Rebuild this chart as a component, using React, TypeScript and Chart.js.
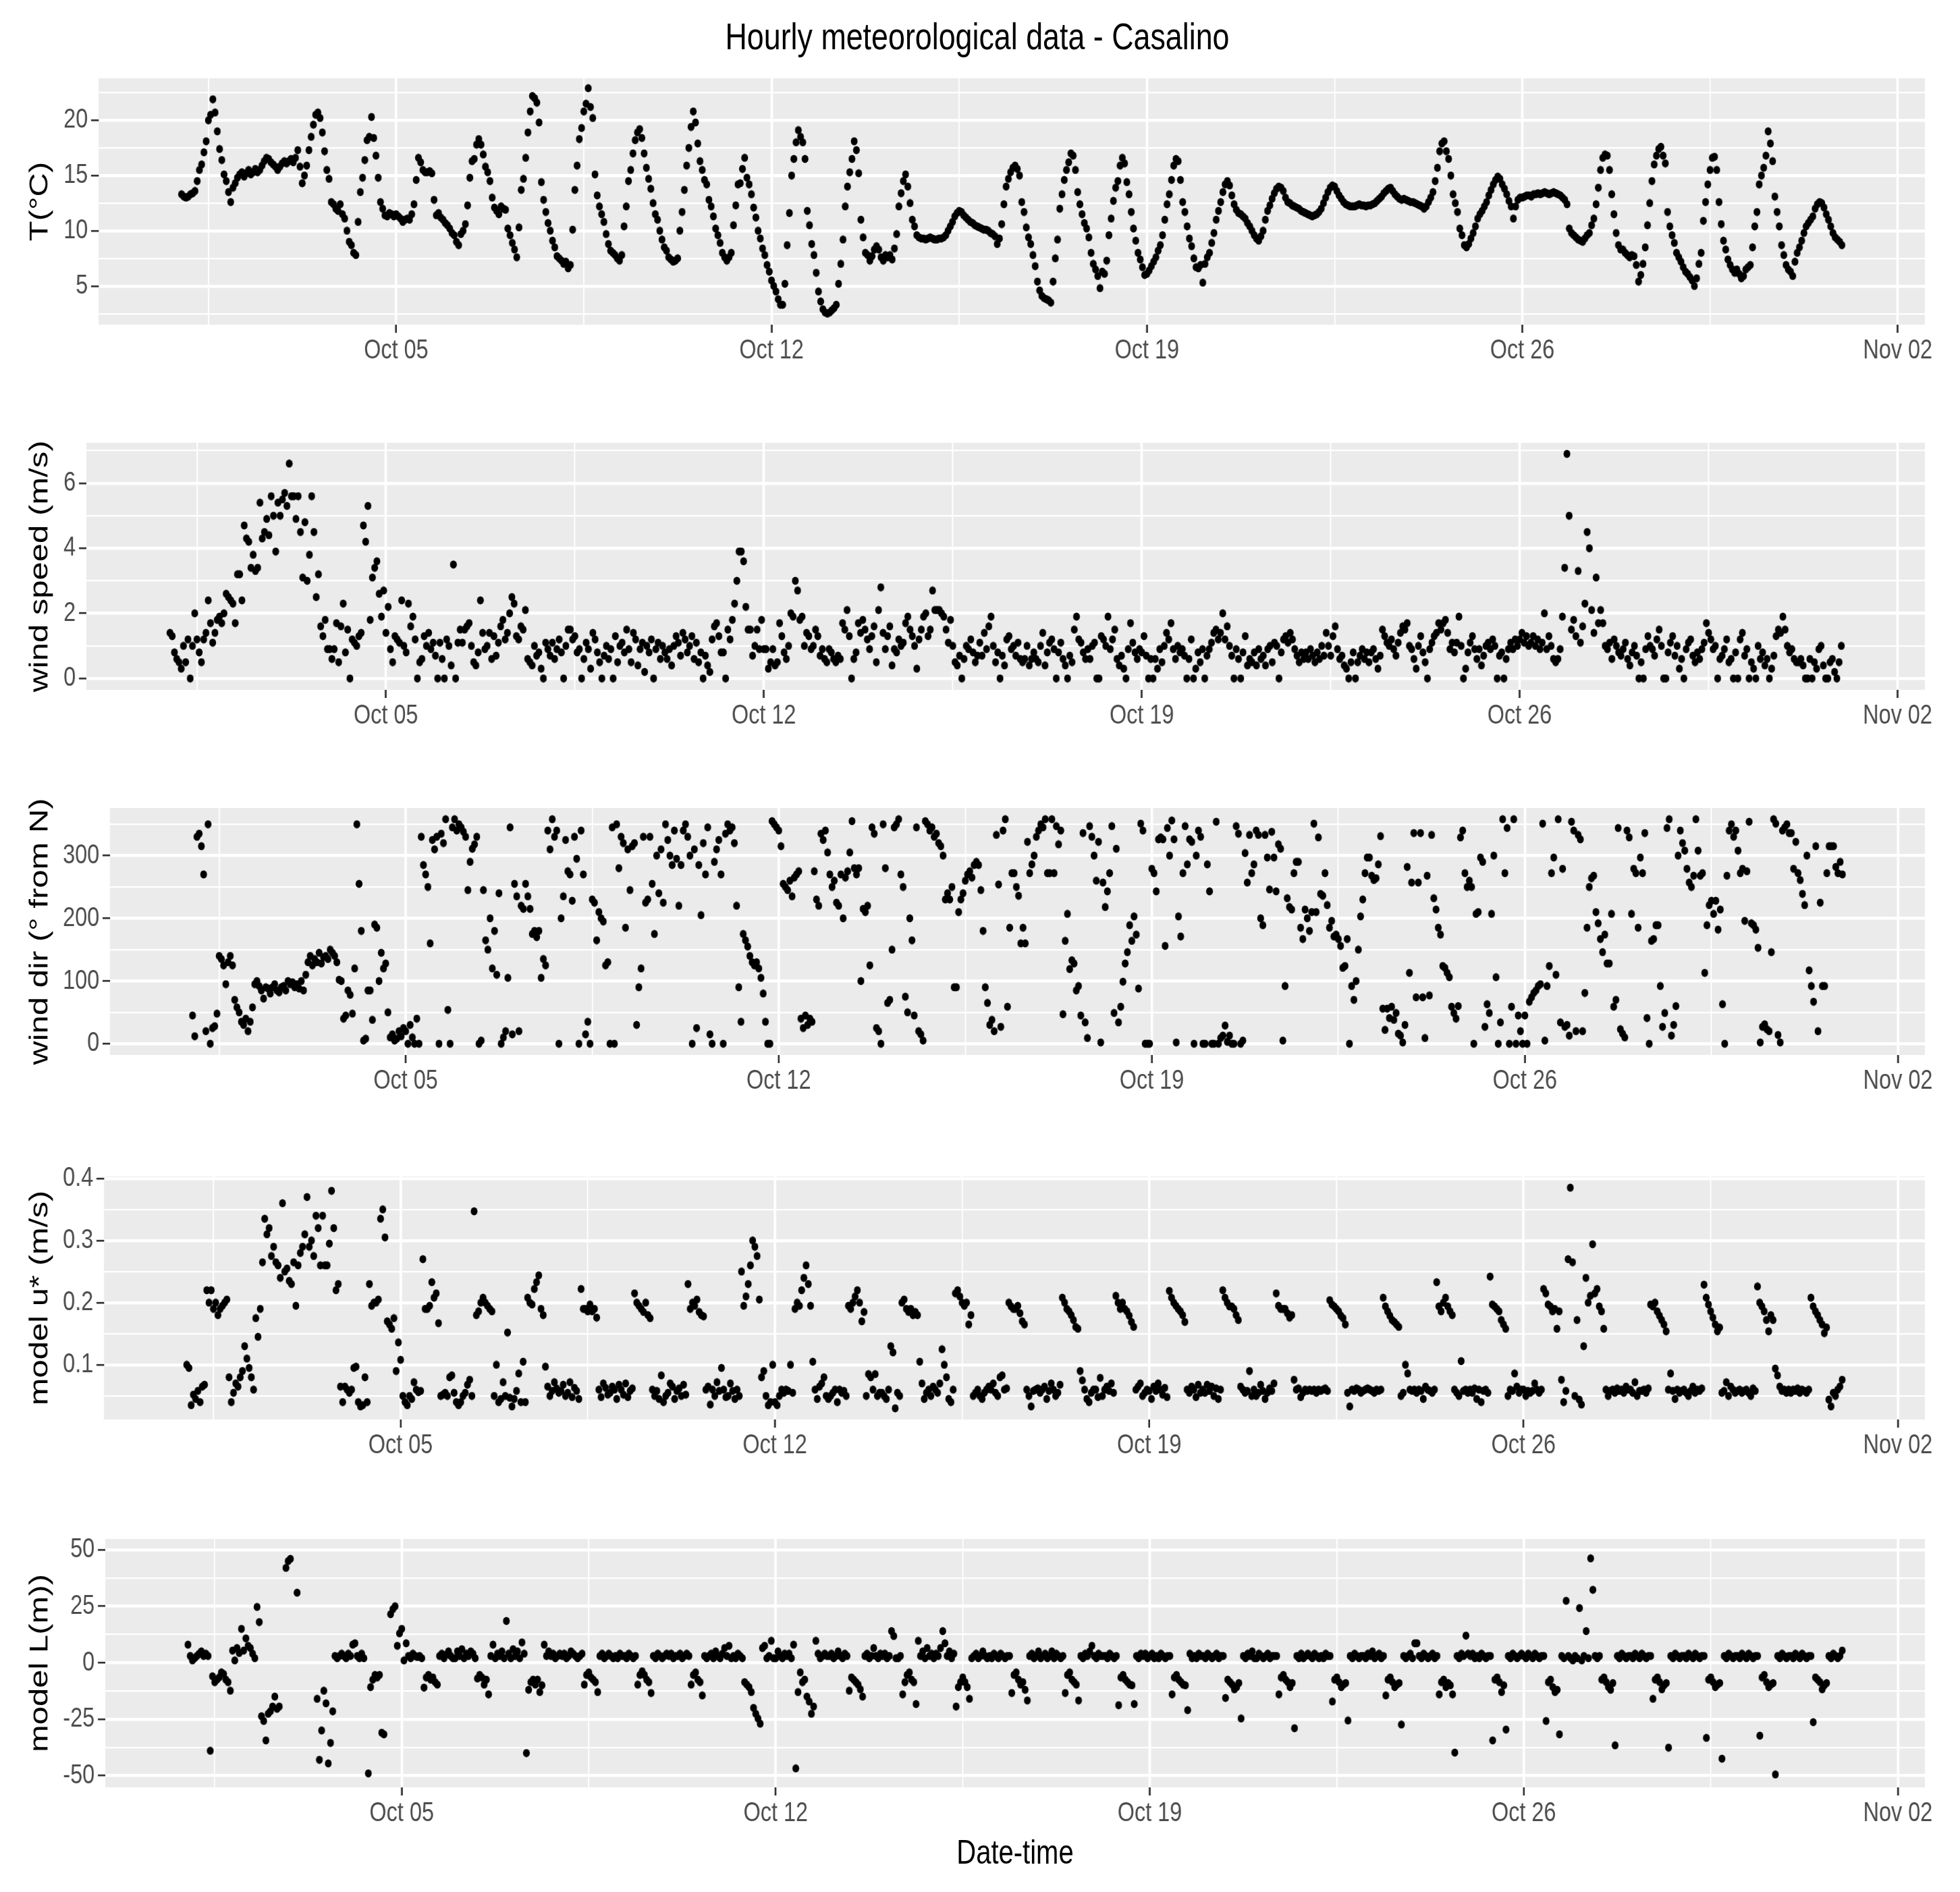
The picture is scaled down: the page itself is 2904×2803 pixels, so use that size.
import React, { useEffect, useRef } from "react";
import { Chart, registerables } from "chart.js";

Chart.register(...registerables);

// ---------- axis / tick values ----------
const xMajorHours = [96, 264, 432, 600, 768]; // hours since Oct 01 00:00
const xMajorLabels = ["Oct 05", "Oct 12", "Oct 19", "Oct 26", "Nov 02"];
const xMinorHours = [12, 180, 348, 516, 684];
const X_MIN = -37.15;
const X_MAX = 780.15;

// ---------- hourly series, Oct 01 00:00 .. Oct 31 23:00 (one row per day) ----------
const temperatureC = [
  13.3,13.1,13.0,13.1,13.3,13.4,13.6,14.5,15.5,16.0,17.1,18.1,20.0,20.5,21.9,20.7,19.0,17.4,16.4,15.1,14.5,13.5,12.6,13.9,
  14.3,14.8,15.1,15.3,14.9,15.2,15.5,15.1,15.3,15.6,15.3,15.5,15.9,16.3,16.6,16.5,16.2,16.0,15.8,15.5,15.8,16.1,16.3,16.1,
  16.3,16.5,16.2,16.6,17.3,15.8,14.3,15.0,15.9,17.3,18.5,19.6,20.5,20.7,20.2,18.9,17.2,15.5,14.7,12.6,12.4,12.0,11.8,12.4,
  11.5,11.1,10.0,9.0,8.7,8.0,7.8,10.8,13.5,14.8,16.4,18.2,18.5,20.3,18.4,16.8,14.8,12.6,12.0,11.4,11.3,11.6,11.5,11.3,
  11.5,11.3,11.1,10.8,11.0,11.1,11.0,11.5,12.4,14.6,16.6,16.2,15.5,15.3,15.3,15.4,15.2,12.8,11.4,11.6,11.2,11.0,10.7,10.5,
  10.2,9.8,9.6,9.0,8.7,9.7,10.0,10.6,12.3,14.8,16.3,16.5,17.8,18.3,17.8,16.9,15.8,15.3,14.5,13.0,12.1,11.8,11.5,12.2,
  12.0,11.9,10.2,9.6,8.9,8.3,7.6,10.3,13.7,14.7,16.6,18.9,20.8,22.2,22.0,21.6,19.8,14.4,12.8,11.7,10.7,10.0,9.1,8.5,
  7.7,7.5,7.3,7.0,7.2,6.6,6.9,10.1,13.7,15.9,18.3,19.3,20.8,21.5,22.9,21.2,20.2,15.1,13.2,12.2,11.5,10.8,9.7,8.8,
  8.2,8.0,7.8,7.5,7.3,7.8,10.4,12.2,14.5,15.5,17.0,18.2,18.9,19.2,18.4,17.0,15.7,14.7,13.8,12.5,11.5,11.0,10.0,9.2,
  8.5,8.2,7.6,7.4,7.2,7.3,7.5,10.0,11.7,13.7,15.9,17.5,19.4,20.8,19.8,17.9,16.3,15.5,14.6,14.2,12.8,12.2,11.3,10.2,
  9.6,8.9,8.0,7.6,7.3,7.6,8.0,10.5,12.3,14.2,14.3,15.6,16.6,14.8,14.2,13.3,12.1,11.2,10.0,9.3,8.4,7.8,6.9,6.3,
  5.5,5.0,4.5,3.8,3.3,3.3,5.2,8.7,11.6,15.0,16.5,18.0,19.1,18.5,18.0,16.5,11.8,10.5,8.8,7.8,6.2,4.5,3.6,2.9,
  2.6,2.5,2.6,2.8,3.0,3.3,5.2,7.0,9.2,12.2,14.0,15.3,16.5,18.1,17.3,15.2,11.0,9.4,8.0,7.8,7.3,7.7,8.3,8.6,
  8.3,7.6,7.3,7.8,7.6,7.8,7.4,8.4,9.7,12.2,13.4,14.5,15.1,14.0,12.5,11.0,10.4,9.6,9.4,9.3,9.3,9.2,9.3,9.4,
  9.3,9.2,9.2,9.3,9.3,9.4,9.6,10.0,10.4,10.8,11.3,11.6,11.8,11.7,11.4,11.2,11.0,10.8,10.7,10.5,10.4,10.3,10.2,10.1,
  10.1,10.0,9.8,9.7,9.5,8.8,9.3,10.6,12.4,14.0,14.7,15.3,15.7,15.9,15.6,15.0,12.6,11.7,10.3,9.4,8.8,7.8,6.8,5.4,
  4.6,4.1,3.9,3.8,3.7,3.5,5.4,7.5,9.2,12.0,13.3,14.6,15.5,16.2,17.0,16.8,15.5,13.5,12.4,11.5,10.7,10.2,9.4,8.0,
  7.0,6.5,5.9,4.8,6.3,6.1,7.3,9.6,11.1,12.7,13.9,14.5,15.9,16.6,16.1,14.4,13.3,11.7,10.2,9.1,8.0,7.4,6.7,6.0,
  6.1,6.4,6.8,7.2,7.6,8.2,8.7,9.6,11.0,12.4,13.3,14.6,15.9,16.5,16.3,14.6,12.6,11.7,10.4,9.3,8.6,7.5,6.7,6.6,
  6.9,5.3,7.0,7.6,8.0,8.9,9.8,11.0,11.8,12.6,13.5,14.2,14.5,14.1,13.2,12.4,11.9,11.6,11.5,11.3,11.1,10.7,10.4,10.0,
  9.6,9.3,9.1,9.5,10.0,11.0,11.8,12.3,12.9,13.4,13.8,14.0,13.9,13.6,13.0,12.6,12.5,12.3,12.2,12.1,12.0,11.8,11.7,11.6,
  11.5,11.4,11.3,11.4,11.5,11.7,12.0,12.5,13.0,13.5,13.9,14.1,14.0,13.6,13.2,12.9,12.6,12.4,12.3,12.2,12.2,12.2,12.3,12.4,
  12.3,12.3,12.2,12.3,12.3,12.4,12.5,12.7,12.9,13.1,13.4,13.6,13.8,13.9,13.6,13.3,13.1,12.9,12.8,12.9,12.8,12.7,12.6,12.6,
  12.5,12.4,12.3,12.2,12.0,12.2,12.6,13.0,13.5,14.5,15.7,17.2,17.9,18.1,17.2,16.5,15.0,13.3,12.5,11.7,10.2,9.6,8.7,8.5,
  8.8,9.3,9.8,10.4,11.1,11.5,11.8,12.2,12.6,13.2,13.7,14.2,14.6,14.9,14.7,14.2,13.8,13.3,12.7,12.2,11.1,12.2,12.8,13.0,
  13.0,13.1,13.2,13.2,13.1,13.3,13.3,13.4,13.3,13.4,13.5,13.4,13.3,13.4,13.5,13.4,13.3,13.2,13.0,12.8,12.4,10.2,9.8,9.6,
  9.4,9.2,9.1,9.0,9.3,9.6,9.8,10.5,11.1,12.4,13.9,15.5,16.6,16.9,16.8,15.5,13.3,11.5,9.8,8.7,8.3,8.3,8.0,7.8,
  7.6,7.8,7.7,6.9,5.4,6.0,7.0,8.5,10.5,12.5,14.5,16.0,16.8,17.4,17.6,16.8,16.1,11.7,10.4,9.6,8.9,8.0,7.6,7.2,
  6.7,6.3,6.1,5.8,5.5,5.0,5.7,7.0,8.0,10.9,12.6,14.2,15.5,16.6,16.7,15.5,12.6,10.6,9.1,8.3,7.4,6.9,6.5,6.2,
  6.5,6.1,5.7,5.9,6.5,6.7,6.9,8.5,10.4,11.7,14.2,15.0,15.7,16.8,19.0,17.9,16.3,13.1,11.7,10.4,8.7,7.8,6.9,6.5,
  6.3,5.9,7.2,8.0,8.5,9.1,9.8,10.4,10.7,11.0,11.3,12.0,12.4,12.6,12.5,12.1,11.5,11.0,10.4,9.8,9.4,9.2,9.0,8.7,
];

const windSpeed = [
  1.4,1.3,0.8,0.6,0.5,0.3,1.0,0.5,1.2,0.0,1.0,2.0,1.2,0.8,0.5,1.2,1.4,2.4,1.7,1.1,1.4,1.8,1.9,1.7,
  2.0,2.6,2.5,2.4,2.3,1.7,3.2,3.2,2.4,4.7,4.3,4.2,3.4,3.8,3.3,3.4,5.4,4.3,4.5,4.9,4.4,5.6,5.0,3.9,
  5.4,5.0,5.5,5.7,5.3,6.6,5.6,5.6,4.9,5.6,4.5,3.1,4.8,3.0,3.8,5.6,4.5,2.5,3.2,1.6,1.3,1.8,0.9,0.9,
  0.6,0.9,1.7,0.5,1.6,2.3,0.8,1.5,0.0,1.2,1.1,1.0,1.3,1.4,4.7,4.2,5.3,1.8,3.1,3.4,3.6,2.6,1.9,2.7,
  1.4,2.2,0.9,0.5,1.3,1.2,1.1,2.4,1.0,0.8,2.3,1.6,1.9,1.2,0.0,0.5,0.6,1.3,1.0,1.4,0.9,1.1,0.7,0.0,
  1.1,0.6,0.0,1.2,1.0,0.4,3.5,0.0,1.1,1.5,1.1,1.5,1.6,1.7,1.0,0.5,0.4,0.8,2.4,1.4,0.9,1.0,1.4,0.6,
  1.3,0.7,1.1,1.6,1.8,1.2,1.4,2.0,2.5,2.3,1.3,1.2,1.6,1.5,2.1,0.6,0.5,0.4,1.0,0.7,0.8,0.3,0.0,1.1,
  0.9,0.7,1.1,0.6,0.9,1.2,0.8,0.0,1.0,1.5,1.5,1.2,1.3,0.8,0.9,0.0,0.6,1.1,0.9,0.3,1.4,1.2,0.8,0.5,
  0.0,0.7,1.0,0.6,0.9,0.0,1.3,0.5,1.0,1.1,0.8,1.5,0.9,0.5,1.4,1.2,0.4,0.9,1.1,0.2,1.0,0.8,1.2,0.0,
  0.9,1.1,0.6,1.0,0.8,0.6,0.9,0.4,1.0,1.3,1.1,0.7,1.4,1.2,0.8,1.0,1.3,0.6,1.1,0.5,0.8,0.0,0.7,0.4,
  0.2,1.2,1.6,1.7,1.3,0.8,0.8,0.0,1.5,1.2,1.8,2.3,3.0,3.9,3.9,3.6,2.2,1.5,1.5,0.7,1.0,1.5,0.9,1.8,
  0.9,0.9,0.3,0.5,0.9,0.4,0.5,1.7,1.3,0.8,0.6,1.0,2.0,1.9,3.0,2.7,1.8,1.9,1.0,1.4,1.3,0.9,1.0,1.5,
  1.3,0.7,0.9,0.6,0.5,0.9,0.8,0.6,0.5,0.7,0.6,1.7,1.5,2.1,1.3,0.0,0.6,0.8,1.7,1.4,1.8,1.5,1.2,0.9,
  1.3,1.6,0.5,2.1,2.8,1.4,0.9,1.3,1.6,0.4,0.9,0.8,1.2,1.0,1.1,1.7,1.9,1.5,1.3,1.0,0.3,1.2,1.5,1.9,
  2.0,1.3,1.5,2.7,2.1,2.1,2.1,2.0,1.9,1.5,1.1,1.8,1.0,0.5,0.4,0.7,0.0,0.6,1.0,0.9,1.2,0.8,0.5,0.7,
  1.1,0.7,1.4,0.9,1.6,1.9,1.0,0.5,0.8,0.0,0.7,0.4,1.2,1.3,0.9,1.0,0.7,1.1,0.6,0.5,0.6,1.0,0.4,0.6,
  0.8,0.6,0.5,1.0,1.4,0.4,0.8,1.1,1.2,0.9,0.0,0.8,1.1,0.6,0.4,0.0,0.7,0.5,1.5,1.9,1.2,1.1,0.8,0.6,
  0.9,0.6,1.0,1.1,0.0,0.0,1.3,1.2,1.0,1.9,0.9,1.2,1.5,0.6,0.4,0.7,0.3,0.0,0.9,1.7,1.1,0.8,0.6,0.9,
  0.8,1.3,0.7,0.0,0.6,0.0,0.6,0.3,0.9,0.5,1.0,1.4,1.2,1.7,0.9,0.6,1.0,0.8,0.9,0.7,0.0,0.6,1.2,0.0,
  0.3,0.8,0.5,0.9,0.0,0.7,0.9,1.1,1.4,1.5,1.2,1.4,2.0,1.2,1.6,1.0,0.7,0.0,0.9,0.6,0.0,0.8,1.3,0.4,
  0.6,0.5,0.8,0.4,0.9,0.6,0.7,0.4,0.9,1.0,0.5,1.1,1.0,0.0,0.8,1.2,1.3,1.1,1.4,1.2,0.9,0.7,0.5,0.8,
  0.6,0.8,0.6,0.9,0.7,0.5,0.8,0.6,1.0,0.7,1.4,1.0,0.7,1.3,1.6,0.9,0.6,0.7,0.4,0.3,0.0,0.5,0.8,0.0,
  0.5,0.7,0.9,0.6,0.8,0.5,0.8,0.9,0.6,0.3,0.7,1.5,1.3,1.1,1.0,1.2,0.9,0.7,1.1,1.4,1.6,1.5,1.7,1.0,
  0.9,0.6,0.3,1.0,1.3,0.8,0.5,0.0,0.9,1.1,1.3,1.4,1.7,1.5,1.7,1.8,1.4,0.9,1.1,0.8,1.1,1.9,1.0,0.0,
  0.3,0.8,1.1,1.3,0.9,0.6,0.9,0.4,0.7,1.0,1.1,0.9,1.2,1.0,0.0,0.7,0.8,0.0,0.6,0.9,1.1,0.9,1.2,1.0,
  1.2,1.4,1.1,1.3,1.0,1.1,1.3,1.0,1.2,0.9,1.1,2.0,0.9,1.3,1.0,0.6,0.5,0.6,0.9,1.9,3.4,6.9,5.0,1.5,
  1.8,1.3,3.3,1.1,1.6,2.3,4.5,4.0,2.1,1.4,3.1,1.7,2.1,1.7,1.0,0.9,1.1,0.6,1.2,1.0,0.8,0.7,0.9,1.1,
  0.6,0.4,0.8,1.0,0.7,0.0,0.5,0.0,0.9,1.3,1.0,0.9,0.7,1.2,1.5,1.0,0.0,0.0,0.8,1.1,1.3,0.7,1.0,0.3,
  0.6,0.0,0.9,1.1,1.2,0.7,0.5,0.8,0.6,0.9,1.1,1.7,1.4,1.2,0.9,1.0,0.0,0.6,0.7,0.9,1.2,0.5,0.6,0.0,
  0.8,0.0,1.2,1.4,0.7,0.9,0.0,0.5,0.3,0.0,1.0,0.6,0.8,0.4,0.6,0.0,0.3,0.7,1.3,1.5,1.4,1.9,1.5,1.0,
  0.8,0.9,0.6,0.5,0.5,0.6,0.4,0.0,0.0,0.6,0.0,0.5,0.3,0.9,1.0,0.4,0.0,0.0,0.5,0.6,0.2,0.0,0.5,1.0,
];

const windDir = [
  45,12,330,335,315,270,20,350,0,25,28,48,140,135,125,95,130,140,125,70,58,50,35,30,
  40,20,35,58,95,100,92,85,72,90,88,80,90,95,85,82,90,92,85,100,95,98,90,95,
  88,100,85,110,130,140,125,135,130,145,128,138,140,135,150,145,140,130,102,100,40,45,85,78,
  48,120,350,255,180,5,8,85,85,38,190,185,100,145,120,128,50,10,15,5,8,20,12,25,
  20,0,30,10,0,40,0,330,285,270,250,160,325,310,330,0,335,320,358,54,0,345,358,340,
  350,345,338,330,245,290,311,318,330,0,5,245,165,150,200,120,180,110,240,0,10,20,105,345,
  15,255,235,20,220,215,255,235,215,175,180,170,180,105,135,125,340,310,358,330,340,0,200,235,
  325,275,270,228,330,295,0,340,270,15,35,0,230,225,165,210,200,195,125,130,0,345,0,350,
  280,330,320,185,310,245,315,320,30,90,120,330,225,230,330,255,175,300,240,310,225,350,325,300,
  285,340,295,220,285,340,350,330,300,0,310,25,285,205,320,270,345,15,0,290,310,325,270,0,
  335,350,340,345,320,220,90,35,175,165,155,140,130,125,130,120,105,80,35,0,0,355,350,345,
  340,315,255,250,245,260,235,265,270,275,40,25,45,30,40,35,275,230,220,335,325,340,305,270,
  250,260,225,220,270,200,265,275,305,355,280,270,280,100,215,210,220,125,345,335,25,20,0,350,
  280,65,70,150,345,350,358,270,250,75,50,200,165,45,345,20,15,5,355,350,340,345,330,335,
  320,315,300,230,240,230,250,90,90,210,230,240,260,270,275,265,285,290,285,245,180,90,65,30,
  38,20,333,254,27,340,358,59,185,272,272,250,236,160,185,160,322,272,286,300,330,340,350,345,
  358,272,272,358,272,347,318,340,47,164,207,119,133,128,85,92,45,336,34,9,347,330,300,260,
  322,2,257,218,243,272,347,49,311,34,59,99,128,146,189,164,203,174,88,351,340,0,0,0,
  279,272,243,326,329,326,156,344,300,356,326,2,203,171,272,347,286,326,322,0,300,340,330,0,
  0,286,243,0,0,354,0,9,13,29,3,13,0,0,347,335,0,5,304,257,333,272,286,340,
  333,200,189,333,297,246,338,297,243,318,311,5,92,232,218,214,272,290,290,185,167,214,200,180,
  210,351,210,329,239,236,272,221,185,196,171,174,167,156,121,124,167,0,92,70,100,150,203,230,
  272,297,297,268,261,264,286,331,56,22,56,41,59,38,49,16,13,2,30,282,113,257,336,74,
  257,336,74,9,268,77,333,232,214,185,174,124,121,113,106,59,49,40,60,329,340,272,250,260,
  250,0,207,210,297,290,27,63,49,207,300,106,0,34,358,272,344,0,59,358,0,45,20,0,
  45,0,67,74,81,85,92,95,351,5,92,124,272,297,110,358,34,279,27,30,13,354,340,20,
  333,326,20,81,185,250,264,268,210,192,167,146,174,128,128,207,59,70,344,23,16,10,340,329,
  207,279,272,185,297,272,336,41,0,164,167,189,189,92,27,49,344,358,13,30,60,300,340,320,
  308,279,257,250,268,358,308,268,272,113,189,221,228,207,228,182,214,63,0,268,340,350,330,340,
  308,272,279,196,275,354,192,189,182,153,2,27,31,23,20,146,358,351,14,2,340,345,350,336,
  336,279,322,272,261,239,221,300,117,92,67,315,20,225,92,92,272,315,315,315,282,272,290,270,
];

const frictionVelocity = [
  0.100,0.095,0.035,0.052,0.045,0.058,0.040,0.065,0.068,0.22,0.20,0.22,0.19,0.20,0.18,0.19,0.195,0.20,0.205,0.08,0.04,0.055,0.07,0.065,
  0.08,0.09,0.13,0.11,0.095,0.08,0.06,0.175,0.145,0.19,0.265,0.335,0.31,0.32,0.275,0.29,0.265,0.26,0.24,0.36,0.25,0.255,0.235,0.23,
  0.265,0.195,0.26,0.28,0.29,0.31,0.37,0.29,0.30,0.275,0.34,0.32,0.26,0.34,0.26,0.26,0.295,0.38,0.32,0.22,0.23,0.065,0.04,0.065,
  0.06,0.055,0.06,0.095,0.097,0.04,0.033,0.035,0.08,0.04,0.23,0.195,0.20,0.20,0.205,0.335,0.35,0.305,0.17,0.165,0.158,0.175,0.09,0.136,
  0.108,0.05,0.04,0.035,0.05,0.045,0.072,0.06,0.056,0.058,0.27,0.19,0.19,0.195,0.233,0.208,0.215,0.167,0.05,0.052,0.055,0.05,0.08,0.083,
  0.055,0.04,0.035,0.04,0.05,0.055,0.068,0.076,0.05,0.347,0.18,0.186,0.20,0.208,0.20,0.195,0.19,0.186,0.05,0.10,0.04,0.045,0.072,0.05,
  0.152,0.047,0.033,0.045,0.058,0.086,0.040,0.105,0.040,0.208,0.20,0.197,0.222,0.233,0.244,0.19,0.18,0.097,0.065,0.05,0.058,0.072,0.062,0.055,
  0.058,0.068,0.05,0.055,0.072,0.048,0.063,0.058,0.045,0.222,0.19,0.19,0.186,0.197,0.186,0.19,0.176,0.06,0.048,0.07,0.063,0.052,0.055,0.065,
  0.06,0.045,0.068,0.06,0.052,0.07,0.048,0.058,0.062,0.215,0.20,0.195,0.19,0.185,0.20,0.18,0.175,0.06,0.05,0.058,0.045,0.083,0.04,0.05,
  0.055,0.07,0.065,0.045,0.058,0.062,0.05,0.068,0.052,0.23,0.19,0.20,0.195,0.205,0.185,0.18,0.178,0.06,0.065,0.036,0.06,0.05,0.072,0.058,
  0.095,0.06,0.048,0.05,0.07,0.058,0.045,0.06,0.05,0.25,0.195,0.21,0.23,0.26,0.30,0.29,0.275,0.205,0.08,0.09,0.05,0.035,0.04,0.10,
  0.04,0.035,0.05,0.06,0.055,0.06,0.058,0.1,0.055,0.19,0.20,0.195,0.22,0.24,0.26,0.23,0.195,0.105,0.06,0.045,0.065,0.07,0.08,0.05,
  0.045,0.05,0.055,0.06,0.04,0.06,0.055,0.058,0.05,0.195,0.19,0.20,0.21,0.22,0.20,0.17,0.185,0.05,0.085,0.08,0.06,0.085,0.05,0.055,
  0.055,0.05,0.045,0.06,0.13,0.12,0.03,0.055,0.05,0.20,0.205,0.19,0.185,0.19,0.18,0.185,0.18,0.105,0.07,0.045,0.055,0.06,0.05,0.065,
  0.06,0.055,0.07,0.125,0.10,0.08,0.045,0.04,0.06,0.215,0.22,0.21,0.20,0.195,0.20,0.165,0.18,0.05,0.055,0.06,0.05,0.045,0.055,0.06,
  0.065,0.06,0.07,0.055,0.05,0.08,0.083,0.06,0.062,0.20,0.194,0.19,0.19,0.195,0.183,0.17,0.165,0.06,0.05,0.033,0.058,0.06,0.062,0.055,
  0.06,0.065,0.045,0.058,0.07,0.06,0.05,0.055,0.068,0.208,0.20,0.19,0.186,0.18,0.172,0.161,0.158,0.09,0.075,0.06,0.045,0.04,0.055,0.06,
  0.06,0.048,0.079,0.05,0.06,0.065,0.058,0.07,0.055,0.211,0.20,0.19,0.20,0.19,0.186,0.179,0.169,0.161,0.06,0.065,0.07,0.05,0.055,0.06,
  0.058,0.045,0.065,0.058,0.07,0.06,0.052,0.063,0.048,0.219,0.208,0.20,0.195,0.19,0.186,0.18,0.169,0.06,0.055,0.065,0.06,0.048,0.068,0.055,
  0.06,0.055,0.068,0.058,0.065,0.05,0.062,0.045,0.06,0.22,0.208,0.20,0.194,0.194,0.19,0.18,0.172,0.065,0.06,0.055,0.058,0.09,0.05,0.06,
  0.05,0.055,0.068,0.058,0.045,0.055,0.062,0.058,0.07,0.215,0.195,0.19,0.19,0.19,0.183,0.176,0.18,0.076,0.06,0.062,0.048,0.055,0.06,0.058,
  0.06,0.058,0.06,0.055,0.06,0.058,0.06,0.062,0.058,0.204,0.197,0.194,0.19,0.186,0.179,0.175,0.165,0.055,0.033,0.06,0.058,0.062,0.06,0.055,
  0.058,0.06,0.062,0.06,0.058,0.055,0.06,0.058,0.06,0.208,0.194,0.186,0.179,0.172,0.169,0.165,0.161,0.05,0.055,0.1,0.086,0.06,0.058,0.06,
  0.055,0.06,0.058,0.045,0.065,0.06,0.058,0.055,0.06,0.233,0.194,0.186,0.20,0.208,0.194,0.186,0.18,0.06,0.055,0.05,0.106,0.058,0.06,0.055,
  0.06,0.055,0.062,0.045,0.06,0.04,0.058,0.06,0.055,0.242,0.197,0.194,0.19,0.186,0.172,0.165,0.158,0.05,0.06,0.058,0.086,0.065,0.055,0.06,
  0.06,0.05,0.058,0.055,0.058,0.07,0.06,0.055,0.06,0.222,0.215,0.197,0.194,0.186,0.19,0.158,0.186,0.076,0.04,0.058,0.27,0.385,0.265,0.05,
  0.172,0.044,0.036,0.13,0.24,0.20,0.211,0.294,0.215,0.222,0.194,0.186,0.158,0.06,0.05,0.058,0.06,0.055,0.062,0.058,0.06,0.055,0.065,0.06,
  0.06,0.055,0.072,0.05,0.058,0.058,0.06,0.055,0.062,0.197,0.194,0.20,0.186,0.179,0.172,0.165,0.154,0.06,0.086,0.058,0.045,0.06,0.055,0.058,
  0.06,0.055,0.05,0.058,0.065,0.055,0.06,0.058,0.062,0.229,0.208,0.197,0.186,0.176,0.165,0.154,0.16,0.055,0.058,0.072,0.05,0.065,0.06,0.055,
  0.058,0.06,0.055,0.058,0.06,0.055,0.05,0.062,0.058,0.226,0.20,0.194,0.186,0.172,0.154,0.18,0.172,0.094,0.083,0.065,0.058,0.06,0.055,0.06,
  0.055,0.06,0.058,0.062,0.055,0.06,0.058,0.055,0.06,0.208,0.194,0.186,0.18,0.172,0.165,0.151,0.16,0.044,0.033,0.055,0.05,0.06,0.065,0.076,
];

const obukhovLength = [
  8,3,1,2,3,4,5,3,4,3,-39,-6,-8.6,-7.5,-6.5,-4.3,-5,-7.5,-8.6,-12.4,5.4,1,6.5,4.3,
  15,5.4,10.8,7.5,6.5,4,2,24.7,18,-23.7,-25.8,-34.4,-22.6,-21.5,-19.4,-15,-20.4,-19.4,null,null,42,45,46,null,
  null,31,null,null,null,null,null,null,null,null,-16,-43,-30,-12.4,-18,-44.6,-35.5,-21.5,3,2,3,4,3,2,
  4,3,8,8.6,3,2,4,2,null,-49,-10.8,-7.5,-5.4,-6.5,-5.4,-31,-31.7,null,null,21.5,23.7,25,7.5,13,
  15,1,8.6,3,2,4,3,2.5,3,2,-11,-6.5,-5.4,-7.5,-6.5,-8.6,-9.7,3,4,2,3.5,5,3,2,
  2,5,3,6,2,4,3,5,4,2,-7,-5.4,-6.5,-9.7,-7.5,-14,3,8,2,4,3,5,2,18.5,
  4,2,6,3,5,2,9,4,-40,-12,-8.6,-7.5,-9.7,-7.5,-13,-10,8,3,5,3,4,2,3,4,
  3,4,2,3,5,4,3,2,3,4,-9.7,-5.4,-4.3,-6.5,-7.5,-8.6,-13,3,4,2,3,4,3,2,
  3,2,4,3,3,2,4,3,2,3,-9.7,-5.4,-3.8,-5.4,-7.5,-8.6,-13.4,3,2,4,3,2,3,4,
  3,4,2,3,3,4,2,3,4,3,-9.7,-5.4,-4.3,-7.5,-8.6,-14.5,3,2,3,4,2,5,3,2,
  4,6.5,3,7.5,2,3,2,4,3,2,-8.6,-9.7,-10.8,-13,-20,-22.6,-24.7,-27,6.5,7.5,2,3,9.7,2,
  2,5,3,2,4,3,4,2,8,-46.8,-13,-4.3,-8.6,-7.5,-15,-17.2,-22.6,-19.4,9.7,4,2,3,4,3,
  3,4,2,3,5,3,2,4,3,-12.4,-6.5,-7.5,-8.6,-9.7,-11.8,-15,3,4,2,3,6.5,3,2,4,
  3,4,2,3,14,11.8,2,2,3,-14,-8.6,-5.4,-4.3,-7.5,-8.6,-18.3,9.7,3,5,2,6.5,3,4,2,
  4,3,6.5,14,8.6,3,5,2,4,-19.4,-10.8,-8.6,-6.5,-8.6,-10.8,-16,2,3,4,2,3,5,3,2,
  3,2,4,3,2,4,3,2,3,3,-13.4,-5.4,-4.3,-7.5,-9.7,-8.6,-12,-16.7,3,4,2,3,5,2,
  3,4,2,3,5,2,4,3,2,3,-13.4,-5.4,-4.3,-7.5,-8.6,-9.7,-16.7,3,2,4,3,5,7.5,3,
  2,4,3,3,3,2,4,3,2,3,-18.8,-6.5,-5.4,-7.5,-8.6,-9.7,-10,-18.3,3,2,4,3,4,2,
  3,4,2,3,2,4,3,2,3,3,-14,-6.5,-5.4,-7.5,-8.6,-9.7,-10,-21,4,2,3,2,4,3,
  3,2,4,3,2,3,4,2,3,3,-15.6,-7.5,-8.6,-9.7,-11.8,-10.8,-9,-24.7,3,2,4,3,5,2,
  2,4,3,2,3,4,2,3,3,3,-14,-6.5,-5.4,-7.5,-8.6,-10.8,-9,-29,3,2,4,2,3,4,
  3,2,4,3,2,3,2,4,3,3,-17.2,-7.5,-6.5,-8.6,-10.8,-9.7,-9,-25.6,3,2,4,3,2,3,
  3,2,4,3,5,2,3,4,2,3,-14.5,-7.5,-6.5,-8.6,-10.8,-9.7,-9,-27.4,3,2,3,4,2,8.6,
  8.6,3,2,4,3,2,3,4,2,3,-14,-8.6,-7.5,-10.8,-9,-10,-14,-39.8,3,2,4,3,12,4,
  3,4,2,3,2,4,3,2,3,3,-34.4,-7.5,-6.5,-8.6,-13,-10,-29.6,3,2,4,3,2,3,4,
  3,2,4,3,2,4,3,2,3,3,-25.8,-8.6,-7.5,-10.8,-13,-12,-31.7,3,2,27.4,3,2,1,3,
  2,24.2,1,3,14,2,46.2,32.3,3,2,3,-7.5,-6.5,-8.6,-10.8,-12,-9,-36.6,3,2,4,3,2,3,
  3,2,4,3,2,4,3,2,3,3,-16,-7.5,-6.5,-8.6,-11.8,-10,-9,-37.6,3,2,4,3,2,3,
  3,2,4,3,2,4,3,2,3,3,-33.3,-7.5,-6.5,-8.6,-10.8,-9.7,-9,-42.5,3,2,4,3,2,3,
  3,2,4,3,2,4,3,2,3,3,-32.3,-6.5,-5.4,-8.6,-10.8,-9.7,-9,-49.5,3,2,4,3,2,3,
  3,2,4,3,2,4,3,2,3,3,-26.3,-6.5,-7.5,-8.6,-11.8,-10,-9,3,2,4,3,2,3,5.4,
];

// ---------- layout (full-page pixels) ----------
const SCALE_X = 0.8; // the reference's text and marks are horizontally condensed
const PAGE_W = 2904;
const PAGE_H = 2803;
const INNER_W = PAGE_W / SCALE_X;
const PLOT_RIGHT = 2852;
const PAD_TOP = 40;
const AXIS_H = 80;
const FONT = '"Liberation Sans", Arial, Helvetica, sans-serif';

type PanelDef = {
  key: string;
  title: string;
  values: (number | null)[];
  yMin: number;
  yMax: number;
  yMajor: number[];
  yMajorLabels: string[];
  yMinor: number[];
  left: number;
  top: number;
  bottom: number;
};

const panels: PanelDef[] = [
  { key: "t", title: "T(°C)", values: temperatureC, yMin: 1.5, yMax: 23.8,
    yMajor: [5, 10, 15, 20], yMajorLabels: ["5", "10", "15", "20"], yMinor: [2.5, 7.5, 12.5, 17.5, 22.5],
    left: 146, top: 116, bottom: 481 },
  { key: "ws", title: "wind speed (m/s)", values: windSpeed, yMin: -0.35, yMax: 7.24,
    yMajor: [0, 2, 4, 6], yMajorLabels: ["0", "2", "4", "6"], yMinor: [1, 3, 5, 7],
    left: 128, top: 656, bottom: 1022 },
  { key: "wd", title: "wind dir (° from N)", values: windDir, yMin: -18, yMax: 376,
    yMajor: [0, 100, 200, 300], yMajorLabels: ["0", "100", "200", "300"], yMinor: [50, 150, 250, 350],
    left: 163, top: 1197, bottom: 1563 },
  { key: "us", title: "model u* (m/s)", values: frictionVelocity, yMin: 0.012, yMax: 0.403,
    yMajor: [0.1, 0.2, 0.3, 0.4], yMajorLabels: ["0.1", "0.2", "0.3", "0.4"], yMinor: [0.05, 0.15, 0.25, 0.35],
    left: 154, top: 1743, bottom: 2103 },
  { key: "L", title: "model L(m))", values: obukhovLength, yMin: -55.2, yMax: 54.8,
    yMajor: [-50, -25, 0, 25, 50], yMajorLabels: ["-50", "-25", "0", "25", "50"], yMinor: [-37.5, -12.5, 12.5, 37.5],
    left: 156, top: 2280, bottom: 2648 },
];

function makeDot(): HTMLCanvasElement {
  const c = document.createElement("canvas");
  c.width = 14;
  c.height = 13;
  const g = c.getContext("2d")!;
  g.fillStyle = "#000000";
  g.beginPath();
  g.ellipse(7, 6.5, 6.3, 5.9, 0, 0, Math.PI * 2);
  g.fill();
  return c;
}

const panelBackground = {
  id: "panelBackground",
  beforeDraw(chart: any) {
    const { ctx, chartArea: a } = chart;
    ctx.save();
    ctx.fillStyle = "#EBEBEB";
    ctx.fillRect(a.left, a.top, a.right - a.left, a.bottom - a.top);
    ctx.restore();
  },
};

function Panel({ def }: { def: PanelDef }) {
  const ref = useRef<HTMLCanvasElement | null>(null);
  const plotH = def.bottom - def.top;
  const height = PAD_TOP + plotH + AXIS_H;

  useEffect(() => {
    const canvas = ref.current;
    if (!canvas) return;
    const dot = makeDot();
    const xMajorSet = new Set(xMajorHours);
    const yMajorSet = new Set(def.yMajor);
    const xTicks = [...xMinorHours, ...xMajorHours].sort((a, b) => a - b);
    const yTicks = [...def.yMinor, ...def.yMajor].sort((a, b) => a - b);

    const chart = new Chart(canvas, {
      type: "scatter",
      data: {
        datasets: [
          {
            data: def.values.map((v, i) => ({ x: i, y: v })) as any,
            pointStyle: dot as any,
            pointRadius: 5,
            pointHoverRadius: 5,
            showLine: false,
          },
        ],
      },
      options: {
        responsive: false,
        animation: false,
        devicePixelRatio: 1,
        events: [],
        layout: {
          padding: { top: PAD_TOP, left: 0, bottom: 0, right: INNER_W - PLOT_RIGHT / SCALE_X },
        },
        plugins: {
          legend: { display: false },
          tooltip: { enabled: false },
        },
        scales: {
          x: {
            type: "linear",
            min: X_MIN,
            max: X_MAX,
            afterBuildTicks: (s: any) => {
              s.ticks = xTicks.map((v) => ({ value: v }));
            },
            afterFit: (s: any) => {
              s.height = AXIS_H;
            },
            border: { display: false },
            grid: {
              color: "#FFFFFF",
              lineWidth: (c: any) => (c.tick && xMajorSet.has(c.tick.value) ? 4.6 : 2.4),
              drawTicks: true,
              tickLength: 12,
              tickWidth: 3.4,
              tickColor: (c: any) => (c.tick && xMajorSet.has(c.tick.value) ? "#333333" : "rgba(0,0,0,0)"),
            },
            ticks: {
              autoSkip: false,
              maxRotation: 0,
              minRotation: 0,
              padding: 3,
              color: "#4D4D4D",
              font: { family: FONT, size: 40.5 },
              callback: (v: any) => {
                const k = xMajorHours.indexOf(Number(v));
                return k >= 0 ? xMajorLabels[k] : "";
              },
            },
          },
          y: {
            type: "linear",
            min: def.yMin,
            max: def.yMax,
            afterBuildTicks: (s: any) => {
              s.ticks = yTicks.map((v) => ({ value: v }));
            },
            afterFit: (s: any) => {
              s.width = def.left / SCALE_X;
            },
            border: { display: false },
            grid: {
              color: "#FFFFFF",
              lineWidth: (c: any) => (c.tick && yMajorSet.has(c.tick.value) ? 4.4 : 2.2),
              drawTicks: true,
              tickLength: 13.75,
              tickWidth: 2.7,
              tickColor: (c: any) => (c.tick && yMajorSet.has(c.tick.value) ? "#333333" : "rgba(0,0,0,0)"),
            },
            ticks: {
              autoSkip: false,
              padding: 6,
              color: "#4D4D4D",
              font: { family: FONT, size: 40.5 },
              callback: (v: any) => {
                const k = def.yMajor.indexOf(Number(v));
                return k >= 0 ? def.yMajorLabels[k] : "";
              },
            },
            title: {
              display: true,
              text: def.title,
              color: "#000000",
              font: { family: FONT, size: 49 },
              padding: { top: 45, bottom: 0 },
            },
          },
        },
      },
      plugins: [panelBackground],
    } as any);

    return () => chart.destroy();
  }, [def]);

  return (
    <canvas
      ref={ref}
      width={INNER_W}
      height={height}
      style={{ position: "absolute", left: 0, top: def.top - PAD_TOP, width: INNER_W, height }}
    />
  );
}

export default function App() {
  return (
    <div
      style={{
        position: "absolute",
        left: 0,
        top: 0,
        width: PAGE_W,
        height: PAGE_H,
        overflow: "hidden",
        background: "#FFFFFF",
      }}
    >
      <div
        style={{
          position: "absolute",
          left: 0,
          top: 0,
          width: INNER_W,
          height: PAGE_H,
          transform: `scaleX(${SCALE_X})`,
          transformOrigin: "0 0",
        }}
      >
        <div
          style={{
            position: "absolute",
            left: 1448 / SCALE_X - 1200,
            top: 25.9,
            width: 2400,
            textAlign: "center",
            fontFamily: FONT,
            fontSize: 56,
            lineHeight: "56px",
            color: "#000000",
            whiteSpace: "nowrap",
          }}
        >
          Hourly meteorological data - Casalino
        </div>
        {panels.map((p) => (
          <Panel key={p.key} def={p} />
        ))}
        <div
          style={{
            position: "absolute",
            left: 1504 / SCALE_X - 1000,
            top: 2719.4,
            width: 2000,
            textAlign: "center",
            fontFamily: FONT,
            fontSize: 50,
            lineHeight: "50px",
            color: "#000000",
            whiteSpace: "nowrap",
          }}
        >
          Date-time
        </div>
      </div>
    </div>
  );
}
